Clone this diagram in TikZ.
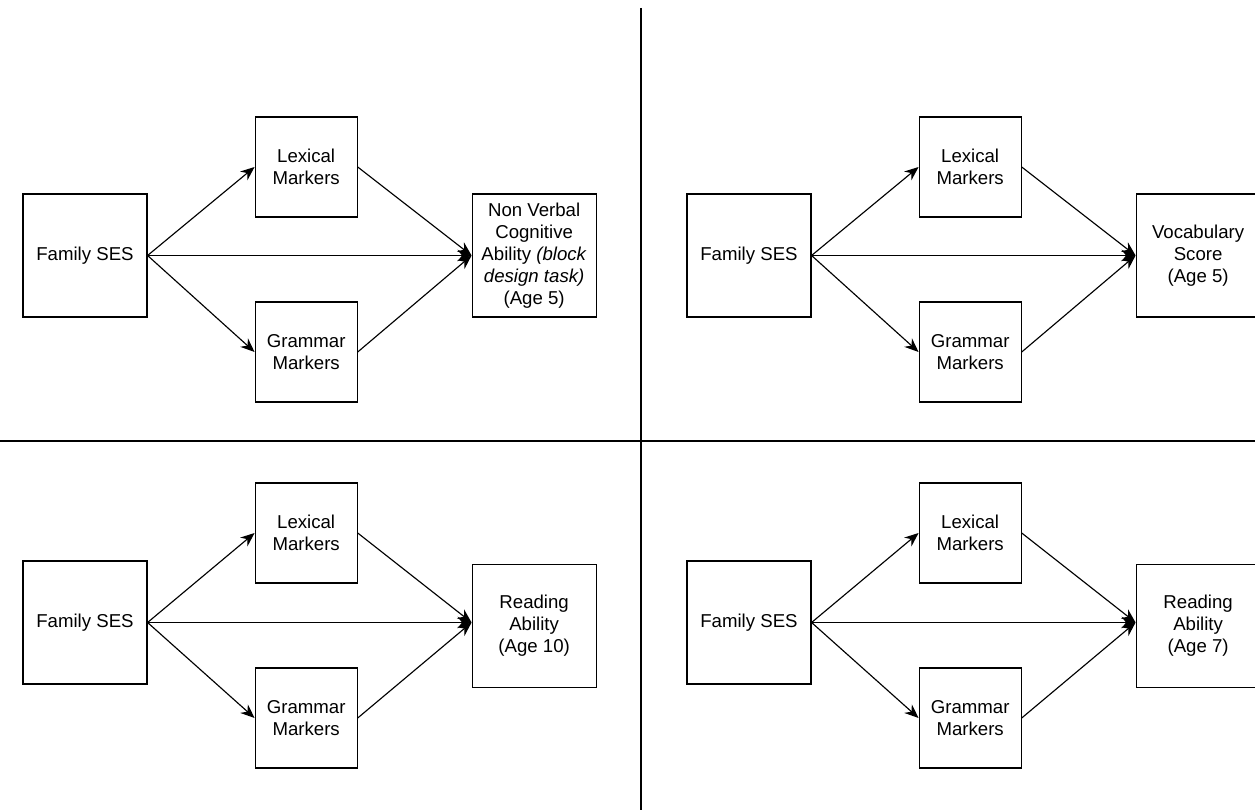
\documentclass[tikz,border=0pt]{standalone}
\usepackage{fontspec}
\setmainfont{Liberation Sans}
\usetikzlibrary{arrows.meta,positioning}

\begin{document}
\begin{tikzpicture}[
    box/.style={draw, line width=0.65pt, align=center, inner sep=2pt,
                font=\fontsize{10.6}{12.6}\selectfont},
    sesbox/.style={box, minimum width=2.48cm, minimum height=2.46cm},
    markbox/.style={box, minimum width=2.04cm, minimum height=2.0cm},
    outbox/.style={box, minimum width=2.48cm, minimum height=2.46cm},
    arrow/.style={-{Stealth[length=8pt,width=6.5pt]}, line width=0.65pt},
    divider/.style={line width=1.7pt}
]

\useasboundingbox (0,0) rectangle (25.1,-16.2);

% top left
\node[sesbox] (ses1) at (1.70,-5.11) {Family SES};

\node[markbox, right=2.14cm of ses1, yshift=1.77cm] (lex1) {Lexical\\Markers};

\node[markbox, right=2.14cm of ses1, yshift=-1.93cm] (gram1) {Grammar\\Markers};

\node[outbox, right=6.48cm of ses1] (out1)
      {Non Verbal\\Cognitive\\Ability \textit{(block}\\\textit{design task)}\\(Age 5)};

% top right
\node[sesbox] (ses2) at (14.98,-5.11) {Family SES};

\node[markbox, right=2.14cm of ses2, yshift=1.77cm] (lex2) {Lexical\\Markers};

\node[markbox, right=2.14cm of ses2, yshift=-1.93cm] (gram2) {Grammar\\Markers};

\node[outbox, right=6.48cm of ses2] (out2) {Vocabulary\\Score\\(Age 5)};

% bottom left
\node[sesbox] (ses3) at (1.70,-12.45) {Family SES};

\node[markbox, right=2.14cm of ses3, yshift=1.79cm] (lex3) {Lexical\\Markers};

\node[markbox, right=2.14cm of ses3, yshift=-1.91cm] (gram3) {Grammar\\Markers};

\node[outbox, right=6.48cm of ses3, yshift=-0.07cm] (out3) {Reading\\Ability\\(Age 10)};

% bottom right
\node[sesbox] (ses4) at (14.98,-12.45) {Family SES};

\node[markbox, right=2.14cm of ses4, yshift=1.79cm] (lex4) {Lexical\\Markers};

\node[markbox, right=2.14cm of ses4, yshift=-1.91cm] (gram4) {Grammar\\Markers};

\node[outbox, right=6.48cm of ses4, yshift=-0.07cm] (out4) {Reading\\Ability\\(Age 7)};

% where the arrows meet
\coordinate (in3) at (out3.west |- ses3.east);
\coordinate (in4) at (out4.west |- ses4.east);

% arrows
\draw[arrow] (ses1.east) -- (lex1.west);
\draw[arrow] (ses1.east) -- (gram1.west);
\draw[arrow] (ses1.east) -- (out1.west);
\draw[arrow] (lex1.east) -- (out1.west);
\draw[arrow] (gram1.east) -- (out1.west);

\draw[arrow] (ses2.east) -- (lex2.west);
\draw[arrow] (ses2.east) -- (gram2.west);
\draw[arrow] (ses2.east) -- (out2.west);
\draw[arrow] (lex2.east) -- (out2.west);
\draw[arrow] (gram2.east) -- (out2.west);

\draw[arrow] (ses3.east) -- (lex3.west);
\draw[arrow] (ses3.east) -- (gram3.west);
\draw[arrow] (ses3.east) -- (in3);
\draw[arrow] (lex3.east) -- (in3);
\draw[arrow] (gram3.east) -- (in3);

\draw[arrow] (ses4.east) -- (lex4.west);
\draw[arrow] (ses4.east) -- (gram4.west);
\draw[arrow] (ses4.east) -- (in4);
\draw[arrow] (lex4.east) -- (in4);
\draw[arrow] (gram4.east) -- (in4);

% quadrant dividers
\draw[divider] (12.82,-0.16) -- (12.82,-16.2);
\draw[divider] (0,-8.82) -- (25.1,-8.82);

\end{tikzpicture}
\end{document}
